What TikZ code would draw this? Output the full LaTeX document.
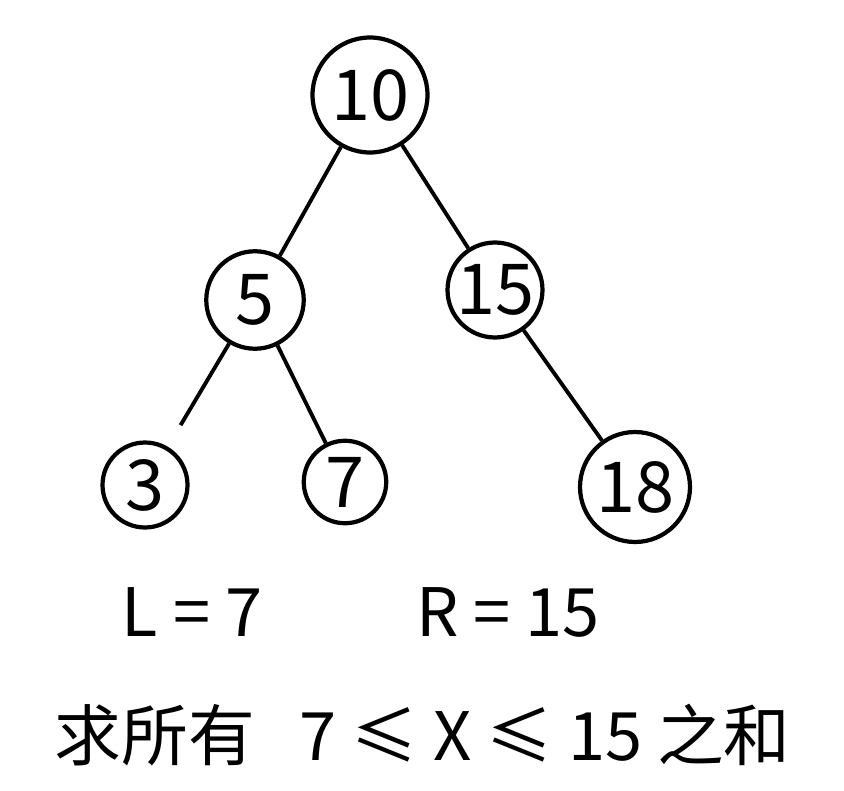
\documentclass[tikz,border=0pt]{standalone}
\usepackage{fontspec}
\usepackage{tikz}
\usetikzlibrary{positioning}
\newfontfamily\cjk{Noto Sans CJK SC}

\begin{document}
\begin{tikzpicture}[
            x=0.02cm, y=-0.02cm,
            key/.style={circle, draw, line width=2.4pt, inner sep=0pt, font=\cjk\fontsize{40}{44}\selectfont},
            edge/.style={line width=2.2pt},
            note/.style={font=\cjk\fontsize{38}{44}\selectfont, inner sep=0pt},
        ]
            \useasboundingbox (0,0) rectangle (844,790);
            % tree nodes
            \node[key, minimum size=2.3cm] (n10) at (370, 95) {10};
            \node[key, minimum size=1.95cm] (n5) at (255, 300) {5};
            \node[key, minimum size=1.9cm] (n15) at (495, 290) {15};
            \node[key, minimum size=1.7cm] (n3) at (145, 485) {3};
            \node[key, minimum size=1.65cm] (n7) at (345, 482) {7};
            \node[key, minimum size=2.2cm] (n18) at (635, 487) {18};

            % edges
            \draw[edge] (n10) -- (n5);
            \draw[edge] (n10) -- (n15);
            \draw[edge, shorten >=0.5cm] (n5) -- (n3);
            \draw[edge] (n5) -- (n7);
            \draw[edge] (n15) -- (n18);

            % range and question
            \node[note] (lo) at (192, 612) {L = 7};
            \node[note] (hi) at (508, 612) {R = 15};
            \node[note] (ask) at (155, 735) {求所有};
            \node[note] (sum) at (545, 735) {7 ≤ X ≤ 15 之和};
        \end{tikzpicture}
\end{document}
